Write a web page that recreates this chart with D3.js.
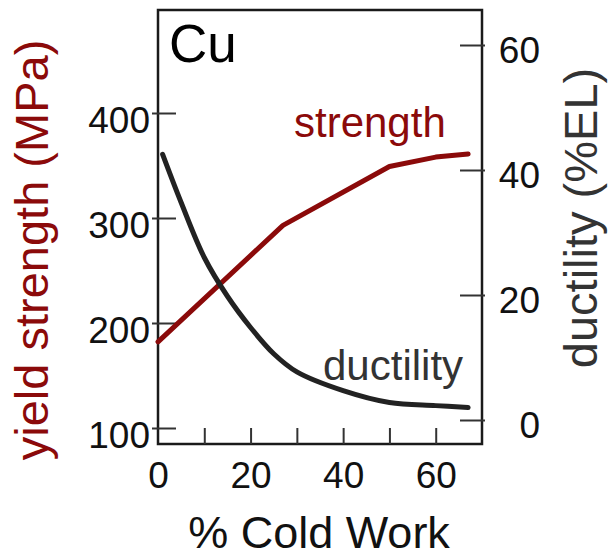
<!DOCTYPE html>
<html>
<head>
<meta charset="utf-8">
<script src="https://cdn.jsdelivr.net/npm/d3@7"></script>
<style>
html,body{margin:0;padding:0;background:#fff;}
svg{display:block;font-family:"Liberation Sans",Arial,sans-serif;}
</style>
</head>
<body>
<svg id="chart" width="608" height="558"></svg>
<script>
// Data
const coldWork = [0, 27, 50, 60, 67];
const strengthMPa = [182, 293, 349, 358, 361];
const ductCold = [1, 5, 10, 15, 20, 25, 30, 40, 50, 60, 67];
const ductilityEL = [42.5, 34.8, 26, 19.8, 14.8, 10.6, 7.7, 4.7, 2.8, 2.3, 2.0];
const xTicks = [0, 20, 40, 60];
const xMinorTicks = [10, 20, 30, 40, 50, 60];
const yLeftTicks = [100, 200, 300, 400];
const yRightTicks = [0, 20, 40, 60];

const svg = d3.select("#chart");
const L = 158, R = 482, T = 10, B = 444;
const RED = "#8b0a0a";
const x = d3.scaleLinear().domain([0, 70]).range([L, R]);
const yL = d3.scaleLinear().domain([100, 400]).range([428, 113]);
const yR = d3.scaleLinear().domain([0, 60]).range([420, 45]);

// frame
svg.append("rect").attr("x", L).attr("y", T).attr("width", R - L).attr("height", B - T)
  .attr("fill", "none").attr("stroke", "#1a1a1a").attr("stroke-width", 2.5);

// left axis
const gl = svg.append("g").attr("transform", `translate(${L + 18},0)`)
  .call(d3.axisLeft(yL).tickValues(yLeftTicks).tickSize(24).tickPadding(2));
gl.select(".domain").remove();
gl.selectAll("line").attr("stroke", "#333").attr("stroke-width", 2);
gl.selectAll("text").attr("font-size", 37).attr("fill", "#111").attr("dy", "0.52em");

// right axis
const gr = svg.append("g").attr("transform", `translate(${R - 22},0)`)
  .call(d3.axisRight(yR).tickValues(yRightTicks).tickSize(25));
gr.select(".domain").remove();
gr.selectAll("line").attr("stroke", "#333").attr("stroke-width", 2);
gr.selectAll("text").attr("font-size", 37).attr("fill", "#111")
  .attr("text-anchor", "end").attr("x", 80).attr("dy", "0.47em");

// bottom minor ticks
const gt = svg.append("g").attr("transform", `translate(0,${B})`)
  .call(d3.axisTop(x).tickValues(xMinorTicks).tickSize(16).tickFormat(""));
gt.select(".domain").remove();
gt.selectAll("line").attr("stroke", "#333").attr("stroke-width", 2);

// bottom labels
const gb = svg.append("g").attr("transform", `translate(0,${B})`)
  .call(d3.axisBottom(x).tickValues(xTicks).tickSize(0).tickPadding(18));
gb.select(".domain").remove();
gb.selectAll("text").attr("font-size", 37).attr("fill", "#111");

// lines
const lineS = d3.line().x((d, i) => x(coldWork[i])).y(d => yL(d));
svg.append("path").datum(strengthMPa).attr("d", lineS)
  .attr("fill", "none").attr("stroke", RED).attr("stroke-width", 5)
  .attr("stroke-linejoin", "round").attr("stroke-linecap", "round");

const lineD = d3.line().x((d, i) => x(ductCold[i])).y(d => yR(d)).curve(d3.curveCatmullRom.alpha(0.5));
svg.append("path").datum(ductilityEL).attr("d", lineD)
  .attr("fill", "none").attr("stroke", "#222").attr("stroke-width", 5)
  .attr("stroke-linejoin", "round").attr("stroke-linecap", "round");

// texts
svg.append("text").attr("x", 169).attr("y", 62).attr("font-size", 53).attr("fill", "#000").text("Cu");
svg.append("text").attr("x", 294).attr("y", 137).attr("font-size", 42).attr("fill", RED).text("strength");
svg.append("text").attr("x", 323).attr("y", 380).attr("font-size", 42).attr("fill", "#333").text("ductility");

svg.append("text").attr("transform", "translate(48,250) rotate(-90)").attr("text-anchor", "middle")
  .attr("font-size", 47).attr("fill", RED).text("yield strength (MPa)");
svg.append("text").attr("transform", "translate(597,218) rotate(-90)").attr("text-anchor", "middle")
  .attr("font-size", 47).attr("fill", "#333").text("ductility (%EL)");
svg.append("text").attr("x", 319).attr("y", 548).attr("text-anchor", "middle")
  .attr("font-size", 45).attr("fill", "#111").text("% Cold Work");
</script>
</body>
</html>
